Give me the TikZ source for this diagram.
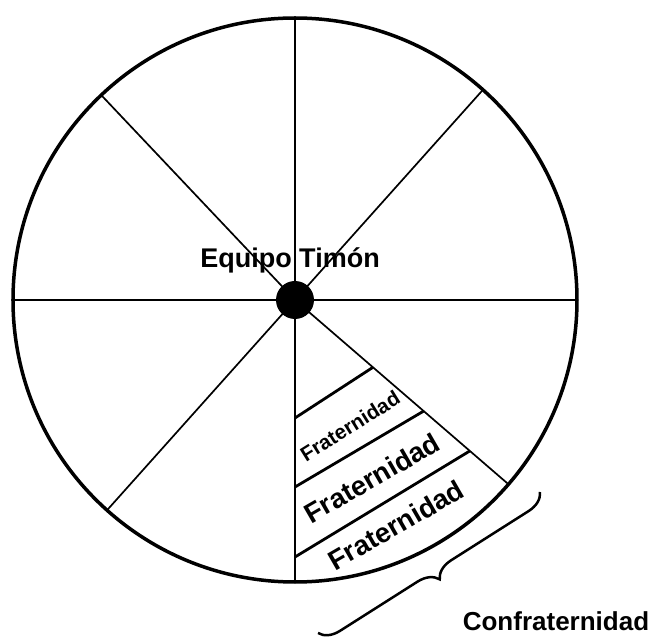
\documentclass[tikz,border=0pt]{standalone}
\usepackage{fontspec}
\setmainfont{Liberation Sans}
\usetikzlibrary{positioning,calc,decorations.pathreplacing}

\begin{document}
\begin{tikzpicture}[
    x=1pt, y=1pt,
    rim/.style={line width=3.5pt},
    spoke/.style={line width=1.7pt},
    band/.style={line width=2.8pt},
    frat/.style={font=\bfseries\fontsize{#1}{#1}\selectfont, inner sep=0pt},
    frat/.default=27,
    title/.style={font=\bfseries\fontsize{#1}{#1}\selectfont, inner sep=0pt, anchor=base},
    title/.default=27,
    curly/.style={decorate, decoration={brace, amplitude=20pt}, line width=2.5pt}
]
    \useasboundingbox (-295,-337) rectangle (359,300);

    % Wheel rim and rim points
    \draw[rim] (0,0) circle (282);
    \foreach \ang/\nm in {90/top, 133.4/nw, 180/west, 228.2/sw, 270/bot, 319.2/se, 0/east, 48.2/ne}
        \coordinate (\nm) at (\ang:282);

    % Spokes
    \draw[spoke] (top)  -- (bot);
    \draw[spoke] (west) -- (east);
    \draw[spoke] (0,0) -- (nw);
    \draw[spoke] (0,0) -- (ne);
    \draw[spoke] (0,0) -- (sw);
    \draw[spoke] (0,0) -- (se);

    % Hub
    \node[circle, fill=black, minimum size=38pt, inner sep=0pt] (hub) at (0,0) {};
    \node[title] (timon) at (-5,32) {Equipo Timón};

    % Bands in the lower-right sector
    \coordinate (b1a) at (0,-118);  \coordinate (b1b) at (-40.8:103);
    \coordinate (b2a) at (0,-187);  \coordinate (b2b) at (-40.8:170);
    \coordinate (b3a) at (0,-257);  \coordinate (b3b) at (-40.8:231);
    \draw[band] (b1a) -- (b1b);
    \draw[band] (b2a) -- (b2b);
    \draw[band] (b3a) -- (b3b);

    \node[frat=20.5, rotate=32] (frat1) at (55,-126) {Fraternidad};
    \node[frat=27.5, rotate=30] (frat2) at (77,-178) {Fraternidad};
    \node[frat=27.5, rotate=30] (frat3) at (101,-225) {Fraternidad};

    % Brace and its label
    \coordinate (brA) at (245,-192);
    \coordinate (brB) at (23,-333);
    \draw[curly] (brA) -- (brB);
    \node[title=26] (confra) at (261,-330) {Confraternidad};

\end{tikzpicture}
\end{document}
